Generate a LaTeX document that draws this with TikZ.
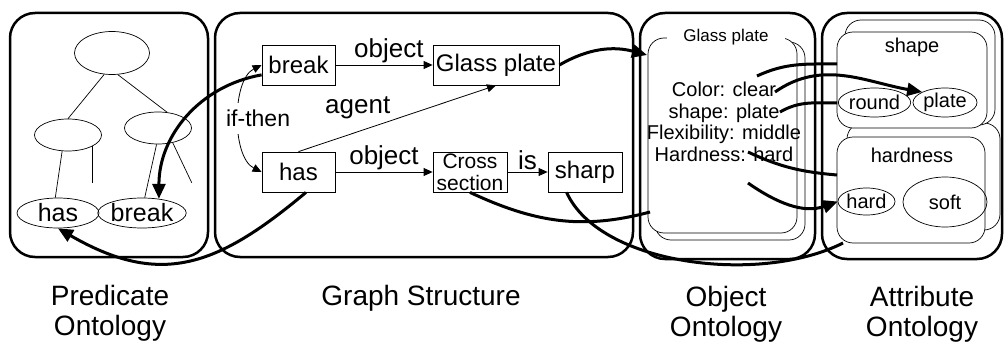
\documentclass[tikz,border=0pt]{standalone}
\usepackage{fontspec}
\setmainfont{Liberation Sans}
\usetikzlibrary{arrows.meta, shapes.geometric, positioning}

\begin{document}
\begin{tikzpicture}[x=1pt, y=1pt,
  >={Triangle[length=9pt,width=8pt]},
  panel/.style={line width=2.5pt, rounded corners=25pt},
  card/.style={draw, fill=white, line width=0.7pt, rounded corners=16pt},
  ell/.style={draw, ellipse, line width=0.7pt, inner sep=0pt},
  gbox/.style={draw, rectangle, line width=0.8pt, minimum height=40pt, inner sep=0pt,
    font=\fontsize{24}{26}\selectfont},
  lbl/.style={font=\fontsize{26}{28}\selectfont, inner sep=2pt},
  thin/.style={line width=0.7pt},
  thinarr/.style={->, line width=0.8pt},
  thickline/.style={line width=3pt},
  thickarr/.style={-{Triangle[length=15pt,width=13pt]}, line width=3pt},
  caption/.style={align=center, font=\fontsize{28}{30}\selectfont}]
  \useasboundingbox (0,0) rectangle (1004,-345);

  % Rahmen
  \draw[panel] (10,-13) rectangle (208,-257);
  \draw[panel] (215,-13) rectangle (633,-257);
  \draw[panel] (640,-13) rectangle (815,-259);
  \draw[panel] (822,-13) rectangle (1002,-259);

  % Predicate Ontology
  \node[ell, minimum width=75pt, minimum height=43pt] (ptop) at (112,-53) {};
  \node[ell, minimum width=67pt, minimum height=32pt] (pleft) at (68,-135) {};
  \node[ell, minimum width=67pt, minimum height=32pt] (pright) at (158,-128) {};
  \node[ell, minimum width=82pt, minimum height=30pt, font=\fontsize{25}{27}\selectfont] (phas) at (58,-213) {has};
  \node[ell, minimum width=83pt, minimum height=30pt, font=\fontsize{25}{27}\selectfont] (pbreak) at (142,-213) {break};
  \draw[thin] (ptop.250) -- (pleft.north);
  \draw[thin] (ptop.285) -- (pright.60);
  \draw[thin] (pleft.250) -- (phas.100);
  \draw[thin] (pleft.335) -- ++(0,-37);
  \draw[thin] (pright.265) -- (pbreak.80);
  \draw[thin] (pright.315) -- ++(19,-40);

  % Graph Structure
  \node[gbox, minimum width=73pt] (gbreak) at (298.5,-65) {break};
  \node[gbox, minimum width=126pt] (gglass) at (496,-65) {Glass plate};
  \node[gbox, minimum width=73pt] (ghas) at (298.5,-172) {has};
  \node[gbox, minimum width=74pt, align=center, font=\fontsize{21}{22}\selectfont] (gcross) at (470,-172) {Cross\\section};
  \node[gbox, minimum width=74pt] (gsharp) at (585,-172) {sharp};
  \draw[thinarr] (gbreak) -- node[lbl, above, pos=0.55] {object} (gglass);
  \draw[thinarr] (ghas) -- node[lbl, above] {object} (gcross);
  \draw[thinarr] (gcross) -- node[lbl, above] {is} (gsharp);
  \draw[thinarr] (ghas.north) -- node[lbl, pos=0.3, above=10pt] {agent} (gglass.south);
  \draw[thinarr, <->] (gbreak.west) .. controls +(-30,-15) and +(-30,15) ..
    node[midway, fill=white, inner xsep=3pt, inner ysep=7pt, xshift=19pt,
      font=\fontsize{23}{25}\selectfont] {if-then} (ghas.west);

  % Object Ontology
  \draw[card] (655,-42) rectangle (805,-240);
  \node[card, minimum width=149pt, minimum height=195pt] (ocard) at (722.5,-135.5) {};
  \node[fill=white, inner xsep=16pt, inner ysep=2pt, font=\fontsize{17}{18}\selectfont] (otitle) at (726,-37) {Glass plate};
  \node[align=center, font=\fontsize{20}{21.7}\selectfont] (otext) at (724,-122)
    {Color: clear\\shape: plate\\Flexibility: middle\\Hardness: hard};

  % Attribute Ontology
  \draw[card] (847,-123) rectangle (1000,-230);
  \draw[card] (845,-20) rectangle (995,-125);
  \node[card, minimum width=150pt, minimum height=96pt] (acshape) at (912,-80) {};
  \node[card, minimum width=148pt, minimum height=106pt] (achard) at (911,-190) {};
  \node[font=\fontsize{20}{22}\selectfont] (ashape) at (912,-47) {shape};
  \node[font=\fontsize{20}{22}\selectfont] (ahardness) at (912,-155) {hardness};
  \node[ell, minimum width=57pt, minimum height=29pt, font=\fontsize{20}{22}\selectfont] (around) at (874.5,-102.5) {round};
  \node[ell, minimum width=64pt, minimum height=29pt, font=\fontsize{20}{22}\selectfont] (aplate) at (945,-102.5) {plate};
  \node[ell, minimum width=57pt, minimum height=27pt, font=\fontsize{20}{22}\selectfont] (ahard) at (866.5,-201.5) {hard};
  \node[ell, minimum width=84pt, minimum height=50pt, font=\fontsize{20}{22}\selectfont] (asoft) at (945,-202) {soft};

  % freie Enden
  \coordinate (glassend) at (647,-55);
  \coordinate (crossend) at (650,-212);
  \coordinate (sharpend) at (843,-243);
  \coordinate (oa1) at (757,-76);
  \coordinate (oa2) at (837,-64);
  \coordinate (ob1) at (775,-92);
  \coordinate (oc1) at (780,-112);
  \coordinate (oc2) at (837,-103);
  \coordinate (od1) at (748,-152);
  \coordinate (od2) at (837,-175);
  \coordinate (oe1) at (748,-183);

  % Verbindungen
  \draw[thickarr] (gglass.east) to[out=30, in=165] (glassend);
  \draw[thickarr] (gbreak.195) to[out=190, in=90] (pbreak.40);
  \draw[thickarr] (ghas.290) to[out=220, in=330, looseness=1.2] (phas.south);
  \draw[thickline] (gcross.south) to[out=-25, in=195] (crossend);
  \draw[thickline] (gsharp.228) .. controls +(33,-73) and +(-83,-42) .. (sharpend);
  \draw[thickline] (oa1) to[out=25, in=180] (oa2);
  \draw[thickarr] (ob1) to[out=35, in=170] (aplate.north west);
  \draw[thickline] (oc1) to[out=30, in=180] (oc2);
  \draw[thickline] (od1) to[out=-25, in=175] (od2);
  \draw[thickarr] (oe1) to[out=-35, in=200] (ahard.west);

  % Beschriftung
  \node[caption] (lpred) at (110,-313) {Predicate\\Ontology};
  \node[caption] (lgraph) at (421,-298) {Graph Structure};
  \node[caption] (lobj) at (726,-314) {Object\\Ontology};
  \node[caption] (lattr) at (922,-314) {Attribute\\Ontology};
\end{tikzpicture}
\end{document}
